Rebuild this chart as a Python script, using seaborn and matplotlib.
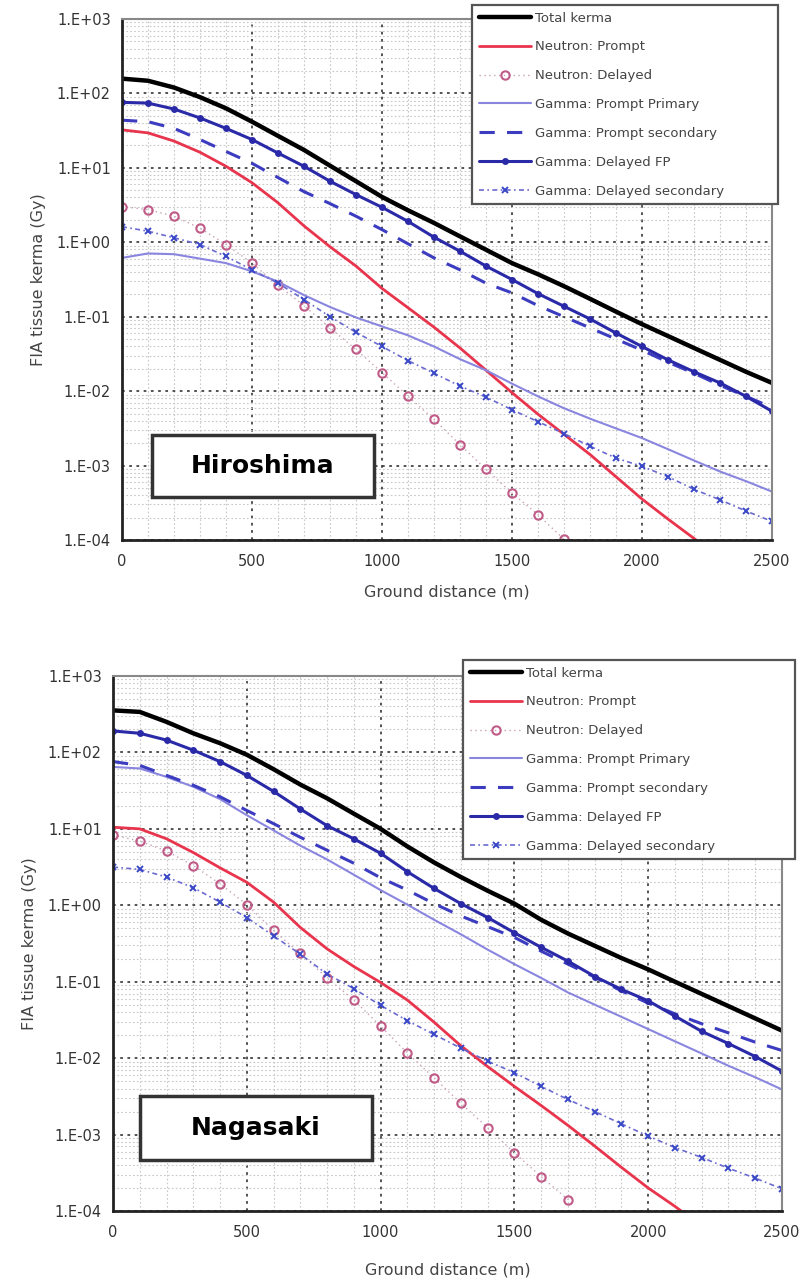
import numpy as np
import pandas as pd
import seaborn as sns
import matplotlib.pyplot as plt
from matplotlib.ticker import LogLocator, MultipleLocator, FuncFormatter, NullFormatter
from matplotlib.patches import Rectangle

# ground distance (m), every 100 m
distance = list(range(0, 2600, 100))
y_ticks = [1e-4, 1e-3, 1e-2, 1e-1, 1e0, 1e1, 1e2, 1e3]

# Hiroshima kerma values (Gy)
hiro_total = [158, 148, 120, 89.1, 63.1, 41.7, 26.9, 17.4, 10.7, 6.61, 4.07, 2.69, 1.82,
              1.20, 0.794, 0.525, 0.372, 0.257, 0.174, 0.117, 0.0794, 0.0550, 0.0380,
              0.0263, 0.0182, 0.0129]
hiro_n_prompt = [32.4, 29.5, 22.9, 16.2, 10.5, 6.31, 3.39, 1.66, 0.871, 0.479, 0.240, 0.132,
                 0.0724, 0.0380, 0.0191, 0.00955, 0.00490, 0.00263, 0.00141, 0.000708,
                 0.000355, 0.000191, 0.000105, 0.0000562]
hiro_n_delayed = [3.02, 2.75, 2.24, 1.55, 0.933, 0.525, 0.263, 0.141, 0.0708, 0.0363, 0.0178,
                  0.00851, 0.00417, 0.00191, 0.000891, 0.000427, 0.000219, 0.000102]
hiro_g_primary = [0.617, 0.708, 0.692, 0.603, 0.525, 0.407, 0.295, 0.195, 0.135, 0.0977,
                  0.0741, 0.0562, 0.0398, 0.0269, 0.0191, 0.0126, 0.00851, 0.00589, 0.00427,
                  0.00316, 0.00234, 0.00166, 0.00117, 0.000832, 0.000617, 0.000447]
hiro_g_secondary = [43.7, 41.7, 33.9, 24.0, 16.6, 11.5, 7.41, 4.79, 3.31, 2.24, 1.48, 0.955,
                    0.617, 0.427, 0.282, 0.209, 0.141, 0.100, 0.0708, 0.0501, 0.0355, 0.0245,
                    0.0174, 0.0120, 0.00851, 0.00603]
hiro_g_fp = [75.9, 74.1, 61.7, 46.8, 33.9, 24.0, 15.8, 10.5, 6.61, 4.37, 2.95, 1.91, 1.17,
             0.759, 0.479, 0.316, 0.204, 0.138, 0.0933, 0.0603, 0.0398, 0.0263, 0.0182,
             0.0129, 0.00851, 0.00537]
hiro_g_del_sec = [1.62, 1.41, 1.15, 0.933, 0.646, 0.427, 0.282, 0.170, 0.100, 0.0617, 0.0398,
                  0.0257, 0.0174, 0.0117, 0.00832, 0.00562, 0.00389, 0.00269, 0.00182,
                  0.00126, 0.000977, 0.000708, 0.000479, 0.000347, 0.000245, 0.000178]

# Nagasaki kerma values (Gy)
naga_total = [355, 339, 251, 178, 132, 93.3, 60.3, 38.0, 25.1, 15.8, 10.0, 5.89, 3.63, 2.34,
              1.55, 1.05, 0.646, 0.427, 0.295, 0.204, 0.145, 0.100, 0.0692, 0.0479, 0.0331,
              0.0229]
naga_n_prompt = [10.5, 10.0, 7.41, 4.90, 3.09, 2.00, 1.10, 0.513, 0.269, 0.158, 0.0977,
                 0.0575, 0.0295, 0.0145, 0.00776, 0.00427, 0.00240, 0.00132, 0.000708,
                 0.000372, 0.000200, 0.000115, 0.0000631]
naga_n_delayed = [8.32, 6.92, 5.13, 3.31, 1.91, 1.02, 0.468, 0.234, 0.112, 0.0575, 0.0263,
                  0.0117, 0.00550, 0.00257, 0.00123, 0.000575, 0.000282, 0.000141]
naga_g_primary = [64.6, 61.7, 47.9, 35.5, 24.5, 15.1, 9.55, 6.03, 3.98, 2.51, 1.58, 1.02,
                  0.646, 0.417, 0.263, 0.170, 0.112, 0.0724, 0.0501, 0.0347, 0.0240, 0.0166,
                  0.0115, 0.00794, 0.00562, 0.00389]
naga_g_secondary = [75.9, 67.6, 50.1, 37.2, 26.3, 17.4, 11.7, 7.76, 5.25, 3.55, 2.29, 1.58,
                    1.05, 0.724, 0.525, 0.380, 0.251, 0.170, 0.115, 0.0759, 0.0525, 0.0380,
                    0.0282, 0.0214, 0.0162, 0.0126]
naga_g_fp = [191, 178, 145, 107, 75.9, 50.1, 30.9, 18.2, 11.0, 7.41, 4.79, 2.75, 1.66, 1.05,
             0.692, 0.437, 0.282, 0.186, 0.117, 0.0794, 0.0562, 0.0355, 0.0224, 0.0155,
             0.0105, 0.00676]
naga_g_del_sec = [3.16, 2.95, 2.34, 1.70, 1.10, 0.692, 0.398, 0.229, 0.126, 0.0813, 0.0490,
                  0.0309, 0.0204, 0.0135, 0.00912, 0.00646, 0.00427, 0.00288, 0.00200,
                  0.00138, 0.000955, 0.000676, 0.000501, 0.000363, 0.000269, 0.000195]

labels = ['Total kerma', 'Neutron: Prompt', 'Neutron: Delayed', 'Gamma: Prompt Primary',
          'Gamma: Prompt secondary', 'Gamma: Delayed FP', 'Gamma: Delayed secondary']

# style for each series, in the order of labels
styles = [
    dict(color='black', lw=3.2),
    dict(color='#e8344c', lw=2.0),
    dict(color='#c8a0b8', lw=1.0, linestyle=(0, (1, 2.5)), marker='o', markersize=6,
         markerfacecolor='none', markeredgecolor='#c05a86', markeredgewidth=1.5),
    dict(color='#8a86e0', lw=1.5),
    dict(color='#3c3cc0', lw=2.2, linestyle=(0, (5, 4))),
    dict(color='#2a2aa8', lw=2.2, marker='o', markersize=5, markeredgewidth=0),
    dict(color='#6a6ad0', lw=1.2, linestyle=(0, (3, 2, 1, 2)), marker='x', markersize=5,
         markeredgecolor='#3a48c8', markeredgewidth=1.4),
]


def draw_panel(fig, rect, series, name, name_box, legend_box, xlabel_pad):
    ax = fig.add_axes(rect)
    for label, vals, st in zip(labels, series, styles):
        df = pd.DataFrame({'d': distance[:len(vals)], 'k': vals})
        sns.lineplot(data=df, x='d', y='k', ax=ax, label=label, **st)

    ax.set_yscale('log')
    ax.set_ylim(1e-4, 1e3)
    ax.set_xlim(0, 2500)
    ax.xaxis.set_major_locator(MultipleLocator(500))
    ax.xaxis.set_minor_locator(MultipleLocator(100))
    ax.set_yticks(y_ticks)
    ax.yaxis.set_minor_locator(LogLocator(base=10, subs=np.arange(2, 10), numticks=20))
    ax.yaxis.set_minor_formatter(NullFormatter())
    ax.yaxis.set_major_formatter(FuncFormatter(lambda v, p: f"1.E{int(round(np.log10(v))):+03d}"))
    ax.set_ylim(1e-4, 1e3)

    ax.grid(which='major', color='#444444', linestyle=(0, (1.5, 2.5)), lw=1.3)
    ax.grid(which='minor', color='#c8c8c8', linestyle=(0, (1.5, 2)), lw=0.8)
    ax.set_axisbelow(True)

    for s in ['left', 'bottom']:
        ax.spines[s].set_color('#222222')
        ax.spines[s].set_linewidth(2.0)
    for s in ['top', 'right']:
        ax.spines[s].set_color('#888888')
        ax.spines[s].set_linewidth(1.5)
    ax.tick_params(which='both', direction='in', color='#333333', labelsize=10.5,
                   labelcolor='#333333')
    ax.tick_params(which='major', length=4, width=1.2)
    ax.tick_params(which='minor', length=2.5, width=1)
    ax.tick_params(axis='x', pad=10)
    ax.tick_params(axis='y', pad=8)

    ax.set_xlabel('Ground distance (m)', fontsize=11.5, color='#444444', labelpad=xlabel_pad)
    ax.set_ylabel('FIA tissue kerma (Gy)', fontsize=11.5, color='#444444', labelpad=8)

    # place-name box
    x0, y0, x1, y1 = name_box
    ax.add_patch(Rectangle((x0, y0), x1 - x0, y1 - y0, transform=ax.transAxes,
                           facecolor='white', edgecolor='#333333', lw=2.5, zorder=5))
    ax.text((x0 + x1) / 2, (y0 + y1) / 2, name, transform=ax.transAxes, ha='center',
            va='center', fontsize=18, fontweight='bold', color='black', zorder=6)

    leg = ax.legend(loc='upper left', bbox_to_anchor=legend_box, bbox_transform=fig.transFigure,
                    mode='expand', borderaxespad=0, fontsize=9.5, handlelength=4.0,
                    labelspacing=1.2, handletextpad=0.3, borderpad=0.5, frameon=True,
                    fancybox=False, framealpha=1, labelcolor='#444444')
    leg.get_frame().set_edgecolor('#555555')
    leg.get_frame().set_linewidth(1.6)
    leg.set_zorder(10)
    return ax


W, H = 803, 1285
fig = plt.figure(figsize=(W / 100, H / 100), dpi=100)
sns.set_style('white')

hiro = [hiro_total, hiro_n_prompt, hiro_n_delayed, hiro_g_primary, hiro_g_secondary,
        hiro_g_fp, hiro_g_del_sec]
naga = [naga_total, naga_n_prompt, naga_n_delayed, naga_g_primary, naga_g_secondary,
        naga_g_fp, naga_g_del_sec]

draw_panel(fig, [122 / W, 1 - 540 / H, 650 / W, 521 / H], hiro, 'Hiroshima',
           (0.046, 0.083, 0.388, 0.2015),
           (472 / W, 1 - 212 / H, 306 / W, 207 / H), 11)
draw_panel(fig, [113 / W, 1 - 1211 / H, 669 / W, 535 / H], naga, 'Nagasaki',
           (0.040, 0.095, 0.387, 0.215),
           (463 / W, 1 - 852 / H, 332 / W, 192 / H), 16)

fig.savefig('out.png', dpi=100)
